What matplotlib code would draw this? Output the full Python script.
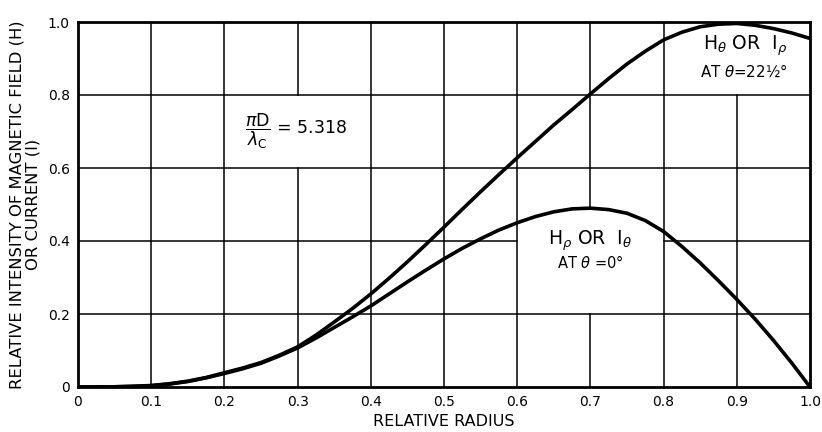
import matplotlib
matplotlib.use("Agg")
import matplotlib.pyplot as plt

# data (relative radius, step 0.025)
radius = [0.0, 0.025, 0.05, 0.075, 0.1, 0.125, 0.15, 0.175, 0.2, 0.225, 0.25,
          0.275, 0.3, 0.325, 0.35, 0.375, 0.4, 0.425, 0.45, 0.475, 0.5,
          0.525, 0.55, 0.575, 0.6, 0.625, 0.65, 0.675, 0.7, 0.725, 0.75,
          0.775, 0.8, 0.825, 0.85, 0.875, 0.9, 0.925, 0.95, 0.975, 1.0]
h_theta = [0.0, 0.0001, 0.0006, 0.002, 0.004, 0.009, 0.016, 0.026, 0.039, 0.052, 0.067,
           0.087, 0.11, 0.142, 0.178, 0.215, 0.255, 0.298, 0.343, 0.39, 0.438,
           0.487, 0.535, 0.582, 0.628, 0.673, 0.718, 0.76, 0.803, 0.845, 0.885,
           0.92, 0.951, 0.972, 0.987, 0.994, 0.996, 0.991, 0.982, 0.97, 0.955]
h_rho = [0.0, 0.0001, 0.0005, 0.0015, 0.0035, 0.008, 0.015, 0.025, 0.037, 0.05, 0.065,
         0.085, 0.107, 0.134, 0.163, 0.192, 0.222, 0.255, 0.288, 0.32, 0.351,
         0.38, 0.406, 0.43, 0.450, 0.467, 0.48, 0.488, 0.49, 0.486, 0.476,
         0.456, 0.426, 0.385, 0.34, 0.291, 0.24, 0.186, 0.128, 0.066, 0.0]
x_ticks = [0, 0.1, 0.2, 0.3, 0.4, 0.5, 0.6, 0.7, 0.8, 0.9, 1.0]
x_tick_labels = ["0", "0.1", "0.2", "0.3", "0.4", "0.5", "0.6", "0.7", "0.8", "0.9", "1.0"]
y_ticks = [0, 0.2, 0.4, 0.6, 0.8, 1.0]
y_tick_labels = ["0", "0.2", "0.4", "0.6", "0.8", "1.0"]

plt.rcParams['font.family'] = ['DejaVu Sans']
fig = plt.figure(figsize=(8.22, 4.32), dpi=100)
ax = fig.add_axes([78/822, 1-387/432, (810-78)/822, (387-22)/432])
ax.set_xlim(0, 1.0)
ax.set_ylim(0, 1.0)

gkw = dict(color='black', linewidth=1.1, zorder=1)
# vertical grid lines (with gaps where labels sit)
for xv in x_ticks[1:-1]:
    if abs(xv - 0.3) < 1e-6:
        ax.plot([xv, xv], [0, 0.6], **gkw)
        ax.plot([xv, xv], [0.8, 1.0], **gkw)
    elif abs(xv - 0.7) < 1e-6:
        ax.plot([xv, xv], [0, 0.2], **gkw)
        ax.plot([xv, xv], [0.49, 1.0], **gkw)
    elif abs(xv - 0.9) < 1e-6:
        ax.plot([xv, xv], [0, 0.8], **gkw)
    else:
        ax.plot([xv, xv], [0, 1.0], **gkw)
for yv in y_ticks[1:-1]:
    if abs(yv - 0.4) < 1e-6:
        ax.plot([0, 0.6], [yv, yv], **gkw)
        ax.plot([0.8, 1.0], [yv, yv], **gkw)
    else:
        ax.plot([0, 1.0], [yv, yv], **gkw)

ax.plot(radius, h_theta, color='black', linewidth=2.6, zorder=3,
        solid_capstyle='round', solid_joinstyle='round')
ax.plot(radius, h_rho, color='black', linewidth=2.6, zorder=3,
        solid_capstyle='round', solid_joinstyle='round')

for s in ax.spines.values():
    s.set_linewidth(2.0)

ax.set_xticks(x_ticks)
ax.set_xticklabels(x_tick_labels, fontsize=10)
ax.set_yticks(y_ticks)
ax.set_yticklabels(y_tick_labels, fontsize=10)
ax.tick_params(length=0, pad=6)

ax.set_xlabel("RELATIVE RADIUS", fontsize=11.5, labelpad=3)
ax.set_ylabel("RELATIVE INTENSITY OF MAGNETIC FIELD (H)\nOR CURRENT (I)",
              fontsize=11.8, labelpad=5, linespacing=1.12)

ax.text(0.228, 0.70, r"$\dfrac{\pi\mathrm{D}}{\lambda_\mathrm{C}}$ = 5.318", fontsize=12.5,
        ha='left', va='center')
ax.text(0.70, 0.40, r"H$_\rho$ OR  I$_\theta$", fontsize=13.5, ha='center', va='center')
ax.text(0.70, 0.34, r"AT $\theta$ =0°", fontsize=10.5, ha='center', va='center')
ax.text(0.912, 0.935, r"H$_\theta$ OR  I$_\rho$", fontsize=13.5, ha='center', va='center')
ax.text(0.91, 0.865, r"AT $\theta$=22½°", fontsize=10.8, ha='center', va='center')

fig.savefig("out.png", dpi=100)
